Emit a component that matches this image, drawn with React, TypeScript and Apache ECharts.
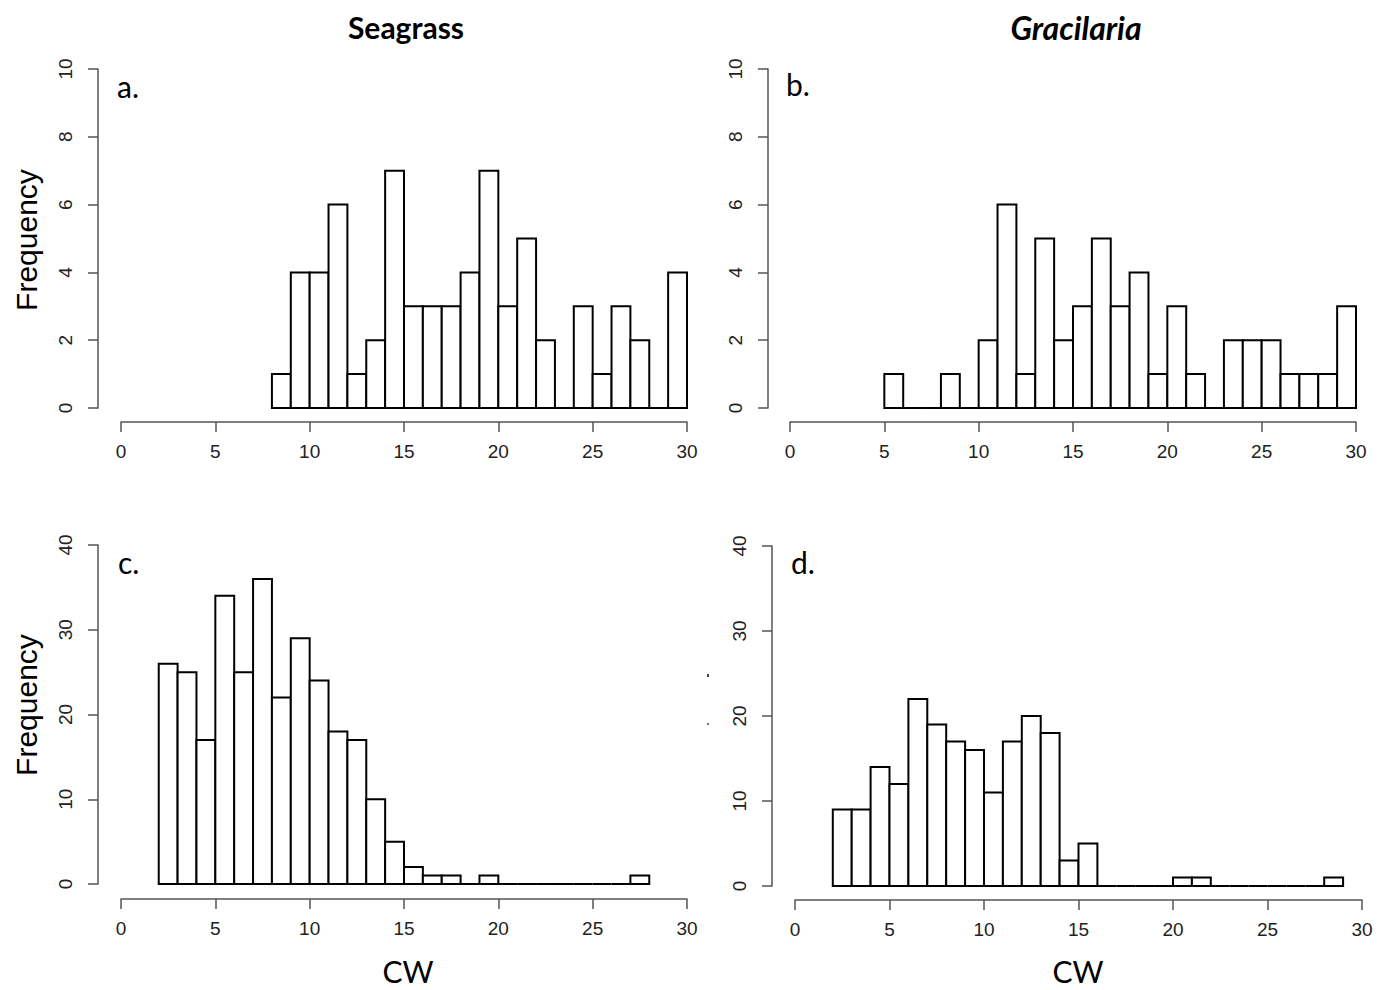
import React, { useEffect, useRef } from "react";
import * as echarts from "echarts";

// ---- data ----
const xTicks = [0, 5, 10, 15, 20, 25, 30];
const seagrassJuvStart = 8;
const seagrassJuv = [1, 4, 4, 6, 1, 2, 7, 3, 3, 3, 4, 7, 3, 5, 2, 0, 3, 1, 3, 2, 0, 4];
const gracilariaJuvStart = 5;
const gracilariaJuv = [1, 0, 0, 1, 0, 2, 6, 1, 5, 2, 3, 5, 3, 4, 1, 3, 1, 0, 2, 2, 2, 1, 1, 1, 3];
const seagrassAllStart = 2;
const seagrassAll = [26, 25, 17, 34, 25, 36, 22, 29, 24, 18, 17, 10, 5, 2, 1, 1, 0, 1, 0, 0, 0, 0, 0, 0, 0, 1];
const gracilariaAllStart = 2;
const gracilariaAll = [9, 9, 14, 12, 22, 19, 17, 16, 11, 17, 20, 18, 3, 5, 0, 0, 0, 0, 1, 1, 0, 0, 0, 0, 0, 0, 1];
const columnTitles = ["Seagrass", "Gracilaria"];
const panelLetters = ["a.", "b.", "c.", "d."];
const yLabel = "Frequency";
const xLabel = "CW";

const toBins = (start: number, counts: number[]) => counts.map((c, i) => [start + i, c]);

export default function App() {
  const ref = useRef<HTMLDivElement>(null);
  useEffect(() => {
    document.body.style.margin = "0";
    const chart = echarts.init(ref.current!, null, { renderer: "svg" });

    const panels = [
      { left: 121, top: 69, width: 566, height: 339, ymax: 10, yint: 2, xoff: 14, yoff: 23, bins: toBins(seagrassJuvStart, seagrassJuv) },
      { left: 790, top: 69, width: 566, height: 339, ymax: 10, yint: 2, xoff: 14, yoff: 22, bins: toBins(gracilariaJuvStart, gracilariaJuv) },
      { left: 121, top: 545, width: 566, height: 339, ymax: 40, yint: 10, xoff: 15, yoff: 23, bins: toBins(seagrassAllStart, seagrassAll) },
      { left: 795, top: 546, width: 567, height: 340, ymax: 40, yint: 10, xoff: 14, yoff: 23, bins: toBins(gracilariaAllStart, gracilariaAll) },
    ];

    const axisColor = "#555";
    const labelFont = "'Liberation Sans', Arial, sans-serif";

    const option: any = {
      animation: false,
      backgroundColor: "#fff",
      grid: panels.map((p) => ({ left: p.left, top: p.top, width: p.width, height: p.height, containLabel: false })),
      xAxis: panels.map((p, i) => ({
        type: "value",
        gridIndex: i,
        min: 0,
        max: 30,
        interval: 5,
        offset: p.xoff,
        splitLine: { show: false },
        axisLine: { show: true, onZero: false, lineStyle: { color: axisColor, width: 1.5 } },
        axisTick: { show: true, length: 10, lineStyle: { color: axisColor, width: 1.5 } },
        axisLabel: {
          show: true,
          margin: 20,
          fontSize: 19,
          color: "#222",
          fontFamily: labelFont,
          showMinLabel: true,
          showMaxLabel: true,
          formatter: (v: number) => (xTicks.includes(v) ? String(v) : ""),
        },
      })),
      yAxis: panels.map((p, i) => ({
        type: "value",
        gridIndex: i,
        min: 0,
        max: p.ymax,
        interval: p.yint,
        offset: p.yoff,
        splitLine: { show: false },
        axisLine: { show: true, onZero: false, lineStyle: { color: axisColor, width: 1.5 } },
        axisTick: { show: true, length: 10, lineStyle: { color: axisColor, width: 1.5 } },
        axisLabel: {
          show: true,
          rotate: 90,
          margin: 23,
          fontSize: 19,
          color: "#222",
          fontFamily: labelFont,
          align: "center",
          verticalAlign: "bottom",
          showMinLabel: true,
          showMaxLabel: true,
        },
      })),
      series: panels.map((p, i) => ({
        type: "custom",
        xAxisIndex: i,
        yAxisIndex: i,
        data: p.bins,
        clip: false,
        renderItem: (params: any, api: any) => {
          const x = api.value(0);
          const y = api.value(1);
          const p0 = api.coord([x, 0]);
          const p1 = api.coord([x + 1, y]);
          return {
            type: "rect",
            shape: { x: p0[0], y: p1[1], width: p1[0] - p0[0], height: p0[1] - p1[1] },
            style: { fill: "#fff", stroke: "#000", lineWidth: 2 },
          };
        },
      })),
      graphic: [
        { type: "text", x: 406, y: 27, style: { text: columnTitles[0], font: "bold 30px Lato, 'Open Sans', sans-serif", fill: "#000", align: "center", verticalAlign: "middle" } },
        { type: "text", x: 1076, y: 27, style: { text: columnTitles[1], font: "italic bold 32px Lato, 'Open Sans', sans-serif", fill: "#000", align: "center", verticalAlign: "middle" } },
        { type: "text", x: 117, y: 86, style: { text: panelLetters[0], font: "30px Lato, 'Open Sans', sans-serif", fill: "#000", align: "left", verticalAlign: "middle" } },
        { type: "text", x: 786, y: 84, style: { text: panelLetters[1], font: "30px Lato, 'Open Sans', sans-serif", fill: "#000", align: "left", verticalAlign: "middle" } },
        { type: "text", x: 118, y: 562, style: { text: panelLetters[2], font: "30px Lato, 'Open Sans', sans-serif", fill: "#000", align: "left", verticalAlign: "middle" } },
        { type: "text", x: 791, y: 562, style: { text: panelLetters[3], font: "30px Lato, 'Open Sans', sans-serif", fill: "#000", align: "left", verticalAlign: "middle" } },
        { type: "text", x: 26, y: 240, rotation: Math.PI / 2, style: { text: yLabel, font: "30px 'Liberation Sans', Arial, sans-serif", fill: "#000", align: "center", verticalAlign: "middle" } },
        { type: "text", x: 26, y: 705, rotation: Math.PI / 2, style: { text: yLabel, font: "30px 'Liberation Sans', Arial, sans-serif", fill: "#000", align: "center", verticalAlign: "middle" } },
        { type: "text", x: 408, y: 971, style: { text: xLabel, font: "30px Lato, 'Open Sans', sans-serif", fill: "#000", align: "center", verticalAlign: "middle" } },
        { type: "text", x: 1078, y: 971, style: { text: xLabel, font: "30px Lato, 'Open Sans', sans-serif", fill: "#000", align: "center", verticalAlign: "middle" } },
        { type: "rect", shape: { x: 707, y: 674, width: 2, height: 3 }, style: { fill: "#444" } },
        { type: "rect", shape: { x: 707, y: 723, width: 2, height: 2 }, style: { fill: "#777" } },
      ],
    };
    chart.setOption(option);
    return () => chart.dispose();
  }, []);
  return <div ref={ref} style={{ width: 1387, height: 990 }} />;
}
